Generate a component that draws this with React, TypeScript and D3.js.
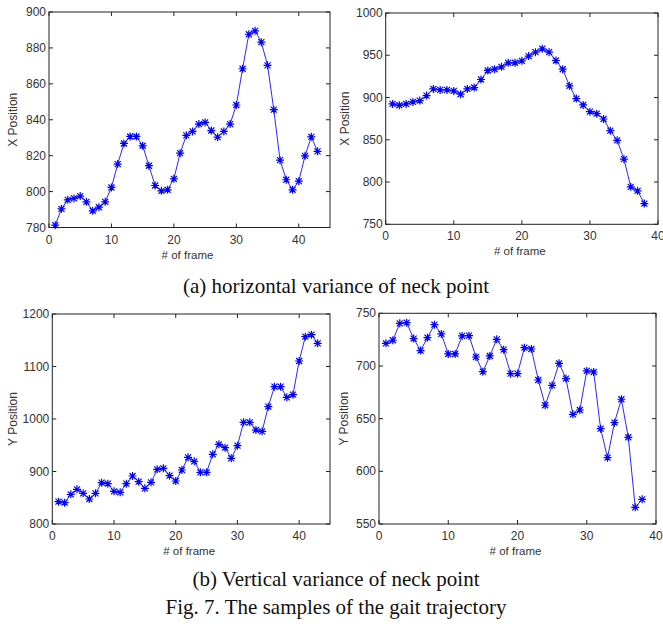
import React, { useEffect, useRef } from 'react';
import * as d3 from 'd3';

// X position of the neck point, sequence (a) left and right
const neckXLeft = [
  781.3, 790.4, 795.4, 796.2, 797.5, 794.3, 789.3, 791.3, 794.3, 802.3,
  815.3, 826.8, 830.7, 830.7, 825.5, 814.4, 803.4, 800.4, 801.0, 807.1,
  821.4, 831.3, 833.5, 837.6, 838.5, 834.0, 830.3, 833.5, 837.6, 848.2,
  868.4, 887.6, 889.5, 883.2, 870.3, 845.6, 817.5, 806.6, 801.0, 805.8,
  819.9, 830.5, 822.4,
];
const neckXRight = [
  892.4, 890.8, 892.4, 894.8, 896.4, 902.3, 910.2, 909.0, 909.0, 907.8,
  903.9, 910.2, 911.8, 921.3, 932.0, 933.5, 936.3, 941.1, 941.1, 943.4,
  949.0, 953.7, 957.7, 953.7, 943.8, 933.5, 913.8, 898.7, 891.2, 883.3,
  880.9, 874.6, 860.8, 849.3, 827.1, 794.3, 789.6, 774.5,
];
// Y position of the neck point, sequence (b) left and right
const neckYLeft = [
  842.5, 840.6, 856.5, 866.0, 858.4, 847.6, 858.4, 878.7, 876.8, 862.2,
  860.3, 876.8, 891.4, 880.6, 867.9, 879.4, 904.1, 906.0, 892.1, 881.9,
  902.9, 927.0, 919.4, 898.4, 898.4, 932.7, 951.7, 945.4, 925.1, 949.2,
  993.7, 993.7, 979.0, 976.5, 1023.5, 1061.6, 1061.6, 1041.3, 1046.3, 1110.5,
  1156.8, 1160.6, 1144.1,
];
const neckYRight = [
  721.5, 724.4, 740.5, 741.1, 726.0, 714.6, 726.9, 739.2, 730.4, 711.4,
  711.4, 728.5, 728.8, 708.5, 694.6, 709.5, 725.3, 715.5, 692.7, 692.7,
  717.4, 716.1, 686.7, 662.7, 681.6, 702.5, 688.0, 654.1, 658.2, 695.3,
  694.3, 640.5, 613.0, 646.2, 668.4, 632.3, 565.8, 573.4,
];

const xLabel = '# of frame';
const captions = [
  '(a) horizontal variance of neck point',
  '(b) Vertical variance of neck point',
  'Fig. 7. The samples of the gait trajectory',
];

const panels = [
  { data: neckXLeft, left: 49, right: 330, top: 12, bottom: 227.5, xMax: 45, yMin: 780, yMax: 900, yStep: 20, yLabel: 'X Position', labelX: 13 },
  { data: neckXRight, left: 385.7, right: 658, top: 13, bottom: 224.3, xMax: 40, yMin: 750, yMax: 1000, yStep: 50, yLabel: 'X Position', labelX: 345 },
  { data: neckYLeft, left: 52.3, right: 330, top: 314, bottom: 524, xMax: 45, yMin: 800, yMax: 1200, yStep: 100, yLabel: 'Y Position', labelX: 13 },
  { data: neckYRight, left: 379, right: 656, top: 313.3, bottom: 524, xMax: 40, yMin: 550, yMax: 750, yStep: 50, yLabel: 'Y Position', labelX: 344 },
];

const star = 'M-4,0H4M0,-4V4M-3,-3L3,3M-3,3L3,-3';

export default function App() {
  const svgRef = useRef(null);

  useEffect(() => {
    const svg = d3.select(svgRef.current);
    svg.selectAll('*').remove();
    svg.append('rect').attr('width', 663).attr('height', 630).attr('fill', '#fff');

    panels.forEach((p) => {
      const x = d3.scaleLinear().domain([0, p.xMax]).range([p.left, p.right]);
      const y = d3.scaleLinear().domain([p.yMin, p.yMax]).range([p.bottom, p.top]);
      const g = svg.append('g');

      const xTicks = d3.range(0, p.xMax + 0.1, 10);
      const yTicks = d3.range(p.yMin, p.yMax + 0.1, p.yStep);

      // ticks drawn inward on all four sides, matlab style
      g.selectAll('.xt')
        .data(xTicks)
        .enter()
        .append('path')
        .attr('d', (d) => `M${x(d)},${p.bottom}v-4M${x(d)},${p.top}v4`)
        .attr('stroke', '#222')
        .attr('stroke-width', 1);
      g.selectAll('.yt')
        .data(yTicks)
        .enter()
        .append('path')
        .attr('d', (d) => `M${p.left},${y(d)}h4M${p.right},${y(d)}h-4`)
        .attr('stroke', '#222')
        .attr('stroke-width', 1);

      g.append('rect')
        .attr('x', p.left)
        .attr('y', p.top)
        .attr('width', p.right - p.left)
        .attr('height', p.bottom - p.top)
        .attr('fill', 'none')
        .attr('stroke', '#222')
        .attr('stroke-width', 1);

      g.selectAll('.xl')
        .data(xTicks)
        .enter()
        .append('text')
        .attr('x', (d) => x(d))
        .attr('y', p.bottom + 16)
        .attr('text-anchor', 'middle')
        .attr('font-family', 'Liberation Sans, Arial, sans-serif')
        .attr('font-size', 12)
        .attr('fill', '#333')
        .text((d) => d);
      g.selectAll('.yl')
        .data(yTicks)
        .enter()
        .append('text')
        .attr('x', p.left - 3)
        .attr('y', (d) => y(d) + 4)
        .attr('text-anchor', 'end')
        .attr('font-family', 'Liberation Sans, Arial, sans-serif')
        .attr('font-size', 12)
        .attr('fill', '#333')
        .text((d) => d);

      g.append('text')
        .attr('x', (p.left + p.right) / 2 - 2)
        .attr('y', p.bottom + 31)
        .attr('text-anchor', 'middle')
        .attr('font-family', 'Liberation Sans, Arial, sans-serif')
        .attr('font-size', 11.5)
        .attr('fill', '#333')
        .text(xLabel);
      g.append('text')
        .attr('transform', `translate(${p.labelX + 4},${(p.top + p.bottom) / 2}) rotate(-90)`)
        .attr('text-anchor', 'middle')
        .attr('font-family', 'Liberation Sans, Arial, sans-serif')
        .attr('font-size', 12)
        .attr('fill', '#333')
        .text(p.yLabel);

      const line = d3
        .line()
        .x((_, i) => x(i + 1))
        .y((d) => y(d));
      g.append('path')
        .datum(p.data)
        .attr('d', line)
        .attr('fill', 'none')
        .attr('stroke', '#2828ff')
        .attr('stroke-width', 1);

      g.selectAll('.pt')
        .data(p.data)
        .enter()
        .append('path')
        .attr('transform', (d, i) => `translate(${x(i + 1)},${y(d)})`)
        .attr('d', star)
        .attr('stroke', '#0000ff')
        .attr('stroke-width', 1.2)
        .attr('fill', 'none');
    });

    svg.selectAll('.cap')
      .data(captions)
      .enter()
      .append('text')
      .attr('x', 336)
      .attr('y', (_, i) => [293, 586, 614][i])
      .attr('text-anchor', 'middle')
      .attr('font-family', 'Liberation Serif, Times New Roman, serif')
      .attr('font-size', 21)
      .attr('fill', '#111')
      .text((d) => d);
  }, []);

  return (
    <svg
      ref={svgRef}
      width={663}
      height={630}
      style={{ position: 'absolute', left: 0, top: 0 }}
    ></svg>
  );
}
